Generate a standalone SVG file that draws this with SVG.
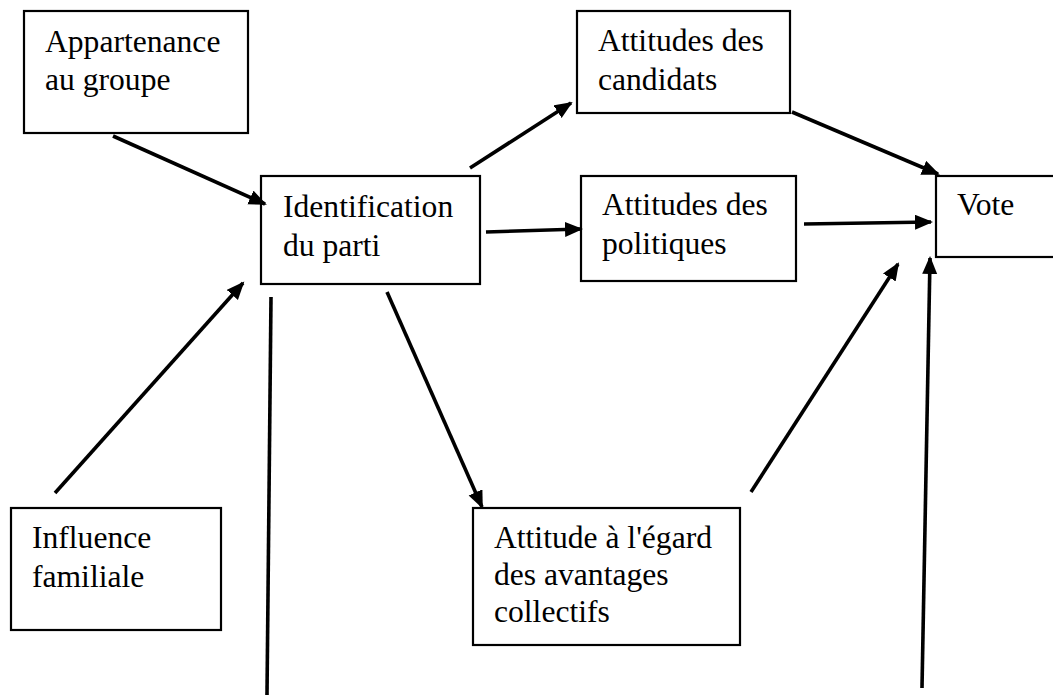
<svg xmlns="http://www.w3.org/2000/svg" width="1053" height="695" viewBox="0 0 1053 695">
<style>
.box{fill:#fff;stroke:#000;stroke-width:2.2}
.lbl{font-family:"Liberation Serif","DejaVu Serif","Noto Serif","Times New Roman",serif;font-size:31.6px;fill:#000}
.edge{stroke:#000;stroke-width:3.6;fill:none}
</style>
<defs>
<marker id="arr" markerUnits="userSpaceOnUse" markerWidth="20" markerHeight="18" refX="16" refY="7.5" orient="auto">
<path d="M0,0 L18,7.5 L0,15 z" fill="#000"/>
</marker>
</defs>
<rect width="1053" height="695" fill="#fff"/>
<g id="appartenance">
<rect class="box" x="24" y="11" width="224" height="122"/>
<text class="lbl" x="45" y="52">Appartenance</text>
<text class="lbl" x="45" y="90">au groupe</text>
</g>
<g id="identification">
<rect class="box" x="261" y="176" width="219" height="108"/>
<text class="lbl" x="283" y="217">Identification</text>
<text class="lbl" x="283" y="256">du parti</text>
</g>
<g id="candidats">
<rect class="box" x="577" y="11" width="213" height="102"/>
<text class="lbl" x="598" y="51">Attitudes des</text>
<text class="lbl" x="598" y="90">candidats</text>
</g>
<g id="politiques">
<rect class="box" x="581" y="176" width="215" height="105"/>
<text class="lbl" x="602" y="215">Attitudes des</text>
<text class="lbl" x="602" y="254">politiques</text>
</g>
<g id="vote">
<rect class="box" x="936" y="176" width="125" height="81"/>
<text class="lbl" x="957" y="215">Vote</text>
</g>
<g id="influence">
<rect class="box" x="11" y="508" width="210" height="122"/>
<text class="lbl" x="32" y="548">Influence</text>
<text class="lbl" x="32" y="587">familiale</text>
</g>
<g id="collectifs">
<rect class="box" x="473" y="508" width="267" height="137"/>
<text class="lbl" x="494" y="548">Attitude à l'égard</text>
<text class="lbl" x="494" y="585">des avantages</text>
<text class="lbl" x="494" y="622">collectifs</text>
</g>
<g id="connectors">
<line class="edge" x1="113" y1="136" x2="265" y2="204" marker-end="url(#arr)"/>
<line class="edge" x1="55" y1="493" x2="243" y2="283" marker-end="url(#arr)"/>
<line class="edge" x1="470" y1="168" x2="571" y2="103" marker-end="url(#arr)"/>
<line class="edge" x1="486" y1="232" x2="581" y2="229" marker-end="url(#arr)"/>
<line class="edge" x1="387" y1="292" x2="482" y2="507" marker-end="url(#arr)"/>
<line class="edge" x1="271" y1="297" x2="267" y2="695"/>
<line class="edge" x1="792" y1="112" x2="938" y2="174" marker-end="url(#arr)"/>
<line class="edge" x1="804" y1="224" x2="931" y2="222" marker-end="url(#arr)"/>
<line class="edge" x1="751" y1="492" x2="898" y2="264" marker-end="url(#arr)"/>
<line class="edge" x1="922" y1="688" x2="930" y2="258" marker-end="url(#arr)"/>
</g>
</svg>
